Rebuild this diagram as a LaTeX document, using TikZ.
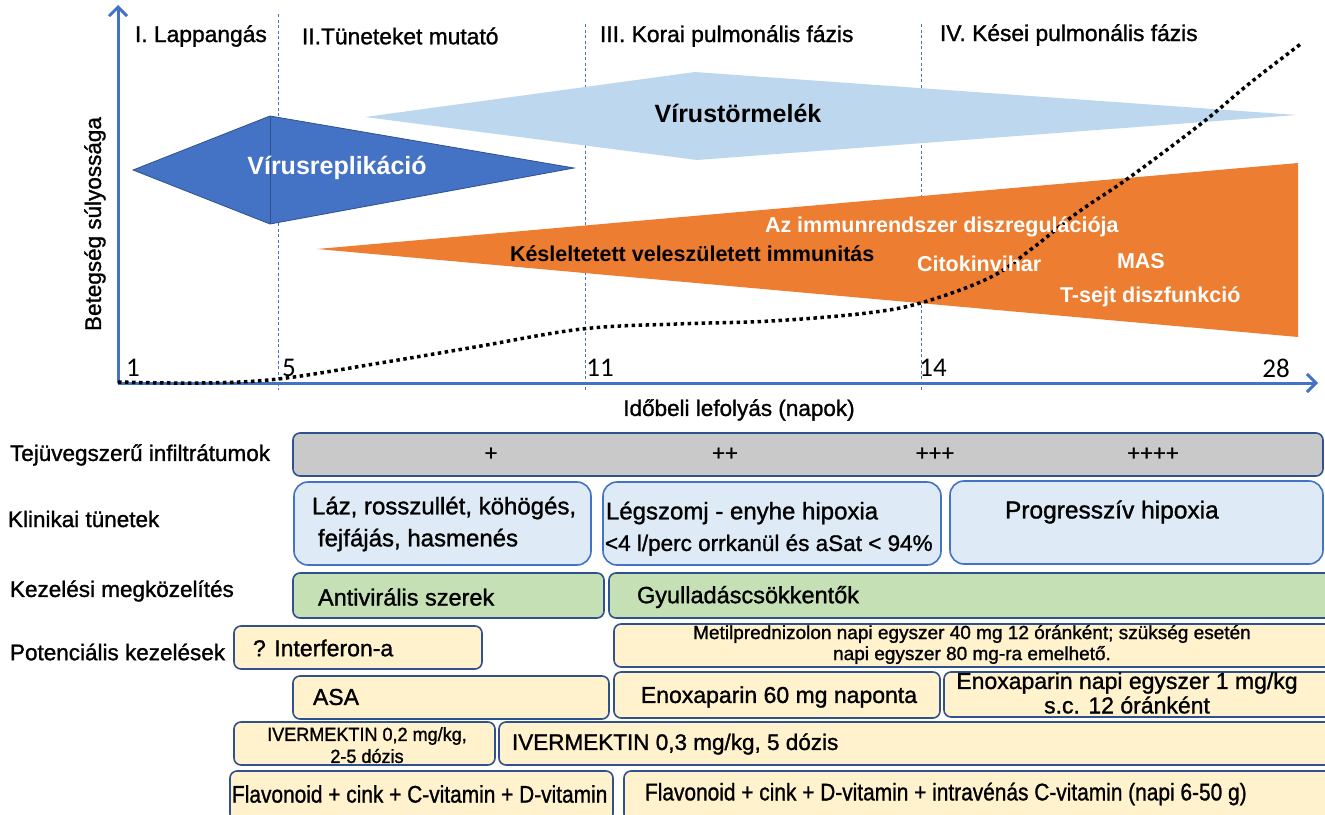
\documentclass[tikz,border=0pt]{standalone}
\usepackage{fontspec}
\setmainfont{Liberation Sans}
\newfontfamily\calib{Carlito}
\newfontfamily\medff{Liberation Sans}[BoldFont={Liberation Sans}, BoldFeatures={FakeBold=1.2}]
\newcommand{\medf}{\medff\bfseries}
\usetikzlibrary{arrows.meta}
\definecolor{axblue}{HTML}{4472C4}
\definecolor{edgeblue}{HTML}{2F528F}
\definecolor{lblue}{HTML}{BDD7EE}
\definecolor{orng}{HTML}{ED7D31}
\definecolor{gbar}{HTML}{C9C9C9}
\definecolor{clin}{HTML}{DEEBF7}
\definecolor{grn}{HTML}{C5E0B4}
\definecolor{ylw}{HTML}{FFF2CC}
\newcommand{\fsz}[1]{\fontsize{#1}{#1}\selectfont}
\begin{document}
\begin{tikzpicture}[x=1pt,y=-1pt,
  every node/.style={inner sep=0pt, outer sep=0pt},
  tw/.style={anchor=west},
  lbl/.style={font=\medf\fsz{22.5}},
  phase/.style={anchor=west, font=\medf\fsz{22.8}},
  tick/.style={font=\calib\fsz{27}},
  bw/.style={font=\bfseries\fsz{21.5}, text=white, anchor=west},
  cell/.style={font=\medf\fsz{23.5}},
  boxbase/.style={draw=edgeblue, line width=1.6pt, rounded corners=7pt, anchor=north west},
  graybox/.style={boxbase, fill=gbar},
  clinbox/.style={boxbase, draw=axblue, fill=clin, rounded corners=14pt},
  grnbox/.style={boxbase, fill=grn},
  ylwbox/.style={boxbase, fill=ylw},
  vdash/.style={draw=axblue, line width=0.7pt, dash pattern=on 3pt off 2.5pt},
  axis/.style={draw=axblue, line width=3pt, -{Straight Barb[length=9pt,width=18pt,line width=3pt]}}
]
\useasboundingbox (0,0) rectangle (1325,814);
\clip (0,0) rectangle (1325,814);

% dashed phase separators
\coordinate (d1t) at (278,14); \coordinate (d1b) at (278,390);
\coordinate (d2t) at (585,24); \coordinate (d2b) at (585,390);
\coordinate (d3t) at (921,24); \coordinate (d3b) at (921,390);
\draw[vdash] (d1t) -- (d1b);
\draw[vdash] (d2t) -- (d2b);
\draw[vdash] (d3t) -- (d3b);

% shapes
\fill[lblue] (365,117) -- (695,72) -- (1297,115) -- (697,160) -- cycle;
\fill[orng] (317,249) -- (1298,163) -- (1298,337) -- cycle;
\fill[axblue, draw=edgeblue, line width=0.8pt] (133,170) -- (270,116) -- (574,168) -- (270,224) -- cycle;
\draw[edgeblue, line width=1pt] (270,116) -- (270,224);

% axes
\coordinate (orig) at (118,383);
\coordinate (ytop) at (118,5);
\coordinate (xend) at (1318,383);
\draw[axis] (orig) -- (ytop);
\draw[axis] (orig) -- (xend);

% severity curve
\draw[black, line width=3.5pt, dash pattern=on 3.5pt off 3.5pt]
  plot[smooth, tension=0.6] coordinates {(118,382) (200,383) (278,379) (380,363) (475,347) (582,329) (676,324) (771,321) (867,313) (924,302) (991,277) (1034,247) (1077,213) (1130,177) (1202,123) (1250,83) (1302,43)};

% phase labels
\node[phase] (p1) at (135,36) {I. Lappangás};
\node[phase] (p2) at (302,36) {II.Tüneteket mutató};
\node[phase] (p3) at (600,36) {III. Korai pulmonális fázis};
\node[phase] (p4) at (940,35) {IV. Kései pulmonális fázis};

% shape labels
\node[font=\bfseries\fsz{25}, text=white] (vr) at (337,168) {Vírusreplikáció};
\node[font=\bfseries\fsz{25}, text=black] (vt) at (738,113) {Vírustörmelék};
\node[font=\bfseries\fsz{21.5}, anchor=west] (kv) at (510,254) {Késleltetett veleszületett immunitás};
\node[bw] (az) at (765,227) {Az immunrendszer diszregulációja};
\node[bw] (ck) at (917,264) {Citokinvihar};
\node[bw] (mas) at (1117,261) {MAS};
\node[bw] (ts) at (1060,297) {T-sejt diszfunkció};

% ticks
\node[tick] (t1) at (133,368) {1};
\node[tick] (t5) at (289,368) {5};
\node[tick] (t11) at (600,368) {11};
\node[tick] (t14) at (933,368) {14};
\node[tick] (t28) at (1276,368) {28};

% axis titles
\node[lbl, rotate=90] (ylab) at (95,224) {Betegség súlyossága};
\node[lbl] (xlab) at (739,410) {Időbeli lefolyás (napok)};

% row labels
\node[lbl, tw] (r1) at (10,455) {Tejüvegszerű infiltrátumok};
\node[lbl, tw] (r2) at (8,519) {Klinikai tünetek};
\node[lbl, tw] (r3) at (10,591) {Kezelési megközelítés};
\node[lbl, tw] (r4) at (10,652) {Potenciális kezelések};

% row 1
\node[graybox, minimum width=1030, minimum height=43] (gb) at (293,433) {};
\node[font=\medf\fsz{22}] (pl1) at (491,454) {+};
\node[font=\medf\fsz{22}] (pl2) at (725,454) {++};
\node[font=\medf\fsz{22}] (pl3) at (935,454) {+++};
\node[font=\medf\fsz{22}] (pl4) at (1153,454) {++++};

% row 2
\node[clinbox, minimum width=297, minimum height=83] (k1) at (294,482) {};
\node[cell, tw, font=\medf\fsz{24}] (k1a) at (312,508) {Láz, rosszullét, köhögés,};
\node[cell, tw, font=\medf\fsz{24}] (k1b) at (318,540) {fejfájás, hasmenés};
\node[clinbox, minimum width=338, minimum height=83] (k2) at (603,482) {};
\node[cell, tw, font=\medf\fsz{24}] (k2a) at (606,513) {Légszomj - enyhe hipoxia};
\node[cell, tw, font=\medf\fsz{22.5}] (k2b) at (605,545) {<4 l/perc orrkanül és aSat < 94\%};
\node[clinbox, minimum width=373, minimum height=83] (k3) at (950,481) {};
\node[cell, tw, font=\medf\fsz{24.5}] (k3a) at (1005,512) {Progresszív hipoxia};

% row 3
\node[grnbox, minimum width=311, minimum height=45] (g1) at (293,573) {};
\node[cell, tw] (g1t) at (318,597) {Antivirális szerek};
\node[grnbox, minimum width=730, minimum height=45] (g2) at (609,573) {};
\node[cell, tw] (g2t) at (637,597) {Gyulladáscsökkentők};

% row 4
\node[ylwbox, minimum width=248, minimum height=43] (y1) at (234,626) {};
\node[cell, tw, font=\medf\fsz{23}] (y1t) at (253,648) {? Interferon-a};
\node[ylwbox, minimum width=725, minimum height=43] (y2) at (614,624) {};
\node[font=\medf\fsz{19}] (y2a) at (972,634) {Metilprednizolon napi egyszer 40 mg 12 óránként; szükség esetén};
\node[font=\medf\fsz{19}] (y2b) at (972,655) {napi egyszer 80 mg-ra emelhető.};

% row 5
\node[ylwbox, minimum width=316, minimum height=43] (y3) at (293,676) {};
\node[cell, tw, font=\medf\fsz{23}] (y3t) at (313,697) {ASA};
\node[ylwbox, minimum width=326, minimum height=46] (y4) at (614,672) {};
\node[font=\medf\fsz{23}] (y4t) at (779,697) {Enoxaparin 60 mg naponta};
\node[ylwbox, minimum width=395, minimum height=45] (y5) at (944,672) {};
\node[font=\medf\fsz{23}] (y5a) at (1127,683) {Enoxaparin napi egyszer 1 mg/kg};
\node[font=\medf\fsz{23}] (y5b) at (1127,705) {s.c. 12 óránként};

% row 6
\node[ylwbox, minimum width=261, minimum height=43] (y6) at (234,722) {};
\node[font=\medf\fsz{19}] (y6a) at (367,736) {\scalebox{0.95}[1]{IVERMEKTIN 0,2 mg/kg,}};
\node[font=\medf\fsz{19}] (y6b) at (367,756) {\scalebox{0.95}[1]{2-5 dózis}};
\node[ylwbox, minimum width=840, minimum height=43] (y7) at (499,722) {};
\node[font=\medf\fsz{22.5}, tw] (y7t) at (512,744) {IVERMEKTIN 0,3 mg/kg, 5 dózis};

% row 7
\node[ylwbox, minimum width=383, minimum height=50] (y8) at (230,771) {};
\node[font=\medf\fsz{24}, tw] (y8t) at (232,794) {\scalebox{0.87}[1]{Flavonoid + cink + C-vitamin + D-vitamin}};
\node[ylwbox, minimum width=715, minimum height=50] (y9) at (624,771) {};
\node[font=\medf\fsz{24}, tw] (y9t) at (645,794) {\scalebox{0.87}[1]{Flavonoid + cink + D-vitamin + intravénás C-vitamin (napi 6-50 g)}};
\end{tikzpicture}
\end{document}
